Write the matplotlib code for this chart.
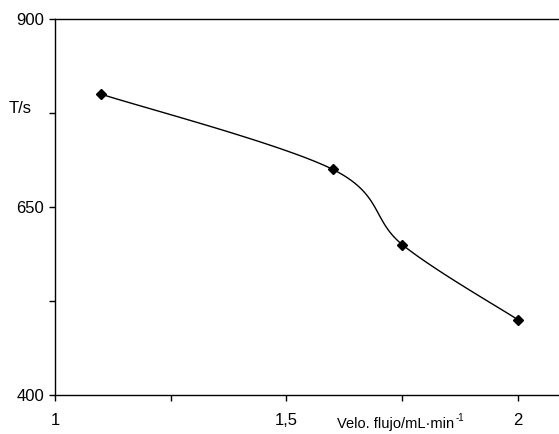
import numpy as np
import matplotlib
matplotlib.use('Agg')
import matplotlib.pyplot as plt
from matplotlib.ticker import FixedLocator, FixedFormatter

plt.rcParams['font.family'] = ['Liberation Sans', 'DejaVu Sans']

# datos
flujo = [1.1, 1.6, 1.75, 2.0]
tiempo = [800, 700, 600, 500]
xticks = [1, 1.5, 2]
xtick_labels = ['1', '1,5', '2']
yticks = [400, 650, 900]
ytick_labels = ['400', '650', '900']


def suavizar(x, y, n=40):
    # curva suavizada tipo Excel (Bezier con puntos de control 1/6)
    p = np.column_stack([x, y]).astype(float)
    ext = np.vstack([p[0], p, p[-1]])
    t = np.linspace(0, 1, n)[:, None]
    out = []
    for i in range(len(p) - 1):
        p0, p3 = ext[i + 1], ext[i + 2]
        c1 = p0 + (ext[i + 2] - ext[i]) / 6
        c2 = p3 - (ext[i + 3] - ext[i + 1]) / 6
        seg = (1 - t) ** 3 * p0 + 3 * (1 - t) ** 2 * t * c1 + 3 * (1 - t) * t ** 2 * c2 + t ** 3 * p3
        out.append(seg if i == 0 else seg[1:])
    out = np.vstack(out)
    return out[:, 0], out[:, 1]


fig = plt.figure(figsize=(5.59, 4.34), dpi=100)
ax = fig.add_axes([55 / 559, 1 - 395 / 434, 1 - 55 / 559, (395 - 19) / 434])

xs, ys = suavizar(flujo, tiempo)
ax.plot(xs, ys, color='black', lw=1)
ax.plot(flujo, tiempo, linestyle='none', marker='D', ms=5, color='black')

ax.set_xlim(1, 1 + (559 - 55) / 463)
ax.set_ylim(400, 900)

ax.xaxis.set_major_locator(FixedLocator(xticks))
ax.xaxis.set_major_formatter(FixedFormatter(xtick_labels))
ax.xaxis.set_minor_locator(FixedLocator([1.25, 1.75]))
ax.yaxis.set_major_locator(FixedLocator(yticks))
ax.yaxis.set_major_formatter(FixedFormatter(ytick_labels))
ax.yaxis.set_minor_locator(FixedLocator([525, 775]))

ax.tick_params(which='both', direction='out', length=4, width=1, labelsize=12, pad=4)
ax.tick_params(axis='x', pad=9)
ax.spines['right'].set_visible(False)
for s in ['left', 'bottom', 'top']:
    ax.spines[s].set_linewidth(1)

fig.text(9 / 559, 1 - 113 / 434, 'T/s', fontsize=12, va='baseline', ha='left')
lbl = fig.text(337 / 559, 1 - 428 / 434, 'Velo. flujo/mL·min',
               fontsize=10.5, va='baseline', ha='left')
ax.annotate('-1', xy=(1, 1), xycoords=lbl, xytext=(1, -4), textcoords='offset points',
            fontsize=7, va='bottom', ha='left', annotation_clip=False)

fig.savefig('out.png', dpi=100)
